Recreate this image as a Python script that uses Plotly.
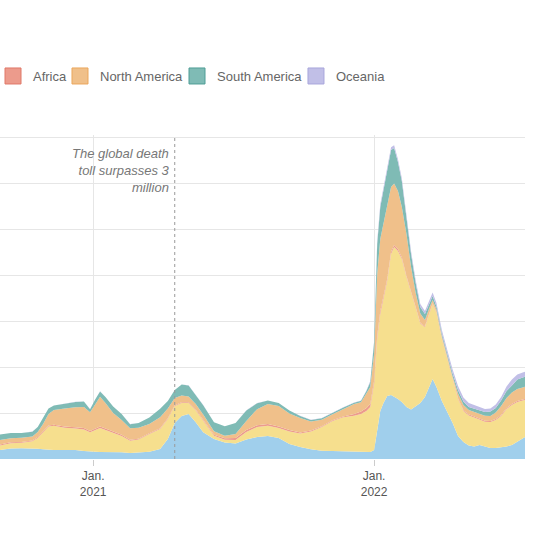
import plotly.graph_objects as go

dates = ["2020-09-02","2020-09-16","2020-09-30","2020-10-14","2020-10-21","2020-10-28","2020-11-04","2020-11-11","2020-11-25","2020-12-09",
         "2020-12-20","2020-12-28","2021-01-04","2021-01-10","2021-01-17","2021-01-27","2021-02-07","2021-02-18","2021-03-01","2021-03-15",
         "2021-03-29","2021-04-08","2021-04-17","2021-04-26","2021-05-05","2021-05-14","2021-05-24","2021-06-07","2021-06-21","2021-07-05",
         "2021-07-19","2021-08-02","2021-08-16","2021-08-30","2021-09-13","2021-09-27","2021-10-11","2021-10-25","2021-11-08","2021-11-22",
         "2021-12-06","2021-12-15","2021-12-22","2021-12-27","2022-01-01","2022-01-05","2022-01-09","2022-01-13","2022-01-18","2022-01-23",
         "2022-01-27","2022-02-01","2022-02-06","2022-02-12","2022-02-18","2022-02-24","2022-03-02","2022-03-08","2022-03-14","2022-03-18",
         "2022-03-23","2022-03-30","2022-04-06","2022-04-13","2022-04-20","2022-04-27","2022-05-04","2022-05-11","2022-05-18","2022-05-25",
         "2022-06-01","2022-06-08","2022-06-15","2022-06-22","2022-06-29","2022-07-06","2022-07-13","2022-07-16"]

# daily new cases, 7-day average, thousands
asia = [98,114,116,116,112,105,100,98,98,98, 87,79,78,76,76,76,73,65,68,79,
        109,217,391,467,489,402,290,217,179,168, 212,239,250,228,163,130,107,91,87,84,
        79,76,76,76,98,326,522,605,685,696, 679,652,620,565,538,571,609,674,804,870,
        783,630,511,391,250,185,147,136,152,136, 120,120,125,136,152,185,217,239]
europe = [50,58,62,76,116,185,253,264,242,234, 234,211,237,261,239,207,177,134,143,192,
          217,217,185,141,120,130,120,35,30,38, 82,109,112,109,136,147,192,257,326,370,
          391,413,446,489,717,978,1054,1123,1250,1533, 1625,1609,1554,1413,1266,1060,864,761,783,815,
          804,674,576,467,402,337,326,315,272,270, 283,304,342,408,435,435,418,402]
africa = [10,9,8,9,11,10,11,11,13,14, 16,14,16,16,16,16,14,10,10,9,
          9,9,9,9,9,8,10,11,16,22, 22,20,18,16,16,11,11,8,8,8,
          18,27,33,33,33,33,33,22,22,22, 22,22,16,11,11,11,9,8,8,8,
          7,7,7,7,8,9,11,11,11,11, 11,11,11,11,11,11,11,11]
north_america = [48,45,46,44,54,80,125,160,196,217, 228,203,266,325,277,201,160,125,120,100,
                 120,105,78,73,62,60,65,38,27,43, 98,174,217,223,179,158,98,71,65,79,
                 109,100,152,185,293,674,783,812,783,707, 669,630,549,457,272,163,100,68,52,36,
                 32,26,26,32,52,57,49,49,60,54, 54,71,98,109,125,130,130,134]
south_america = [60,56,50,52,54,73,60,48,49,57, 60,35,54,57,65,71,65,45,49,71,
                 90,82,87,120,120,92,100,98,103,120, 114,65,38,33,33,22,16,16,18,18,
                 14,17,33,54,130,326,348,362,413,402, 386,315,283,196,141,109,71,65,54,43,
                 33,27,27,33,38,38,33,38,38,40, 47,49,60,76,76,103,109,109]
oceania = [1,1,1,1,1,1,1,1,1,1, 1,1,1,1,1,1,1,1,1,1,
           1,1,1,1,1,1,1,1,1,1, 1,1,1,1,1,1,2,2,3,3,
           3,4,5,11,11,30,30,30,30,30, 30,30,30,30,30,30,33,33,38,38,
           38,38,38,43,43,43,43,38,38,33, 35,38,38,49,65,54,54,54]

continents = ["Asia", "Europe", "Africa", "North America", "South America", "Oceania"]
series = [asia, europe, africa, north_america, south_america, oceania]
fills = ["#a0cfec", "#f6df8e", "#ec9b8c", "#f0c08a", "#7fbbb5", "#c1bfe7"]
edges = ["#7fb8e0", "#eec85e", "#e07868", "#eba75c", "#4f9d96", "#a9a6dc"]
legend_ids = [None, None, "legend", "legend2", "legend3", "legend4"]
legend_x = [None, None, 0.0, 0.1276, 0.3505, 0.5771]

event_date = "2021-04-17"
event_text = "The global death<br>toll surpasses 3<br>million"
tick_vals = ["2021-01-01", "2022-01-01"]
tick_text = ["Jan.<br>2021", "Jan.<br>2022"]
y_top = 3500

fig = go.Figure()
for name, vals, fc in zip(continents, series, fills):
    fig.add_trace(go.Scatter(
        x=dates, y=vals, name=name, mode="lines", stackgroup="one",
        line=dict(width=0, color=fc), fillcolor=fc, showlegend=False,
        hoverinfo="skip"))

legend_layout = {}
for name, fc, ec, lid, lx in zip(continents, fills, edges, legend_ids, legend_x):
    if lid is None:
        continue
    fig.add_trace(go.Scatter(
        x=[None], y=[None], name=name, mode="markers",
        marker=dict(symbol="square", size=16, color=fc, line=dict(color=ec, width=1)),
        showlegend=True, legend=lid))
    legend_layout[lid] = dict(orientation="h", x=lx, xanchor="left", y=1.182, yanchor="middle",
                              indentation=-7, font=dict(size=13, color="#666666"),
                              itemsizing="trace", bgcolor="rgba(0,0,0,0)")

fig.add_shape(type="line", x0=event_date, x1=event_date, y0=0, y1=y_top,
              xref="x", yref="y", line=dict(color="#999999", width=1, dash="dot"))
fig.add_annotation(x=event_date, y=y_top, xref="x", yref="y",
                   text="<i>" + event_text + "</i>", showarrow=False,
                   xanchor="right", yanchor="top", align="right", xshift=-3, yshift=-7,
                   font=dict(family="Liberation Sans, Arial, sans-serif", size=13, color="#777777"))

fig.update_layout(
    width=535, height=535,
    margin=dict(l=0, r=10, t=135, b=76),
    paper_bgcolor="white", plot_bgcolor="white",
    font=dict(family="Liberation Sans, Arial, sans-serif", size=13, color="#555555"),
    showlegend=True,
    xaxis=dict(type="date", range=["2020-09-02", "2022-07-16"],
               tickvals=tick_vals, ticktext=tick_text,
               showgrid=True, gridcolor="#e6e6e6", gridwidth=1,
               ticks="outside", ticklen=6, tickcolor="#cccccc",
               showline=False, zeroline=False,
               tickfont=dict(size=12, color="#555555")),
    yaxis=dict(range=[0, 3522], tick0=0, dtick=500, showgrid=True, gridcolor="#e6e6e6",
               gridwidth=1, showticklabels=False, zeroline=False, showline=False,
               ticks=""),
    **legend_layout,
)

fig.write_html("out.html", config={"displayModeBar": False},
               post_script="document.body.style.margin='0';document.body.style.overflow='hidden';")
